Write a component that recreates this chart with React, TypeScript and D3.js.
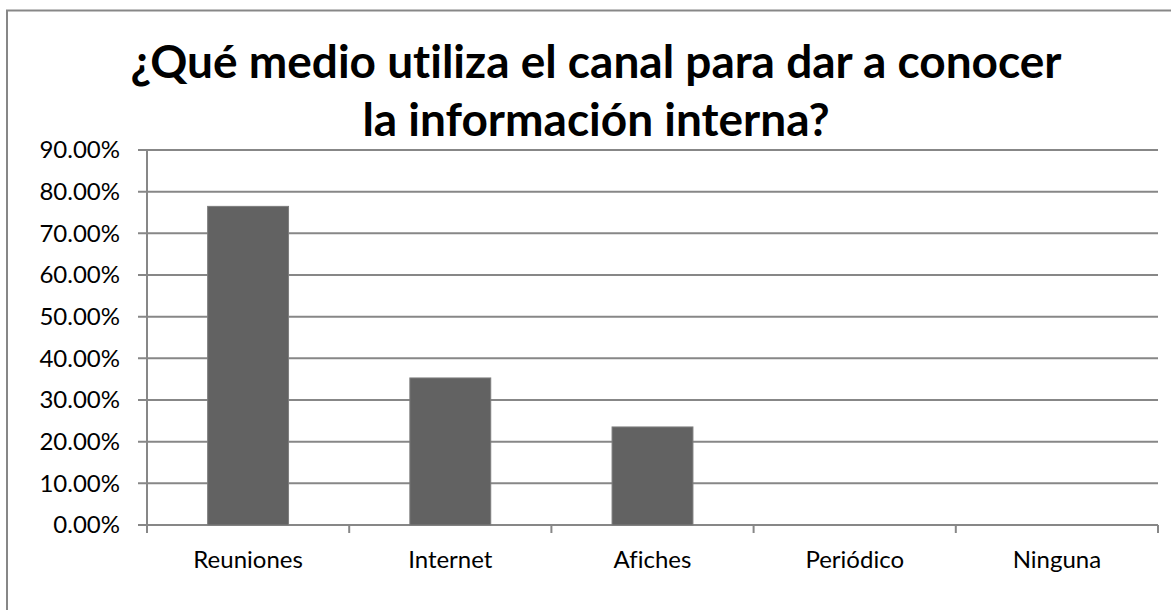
import React from "react";
import * as d3 from "d3";

const categories = ["Reuniones", "Internet", "Afiches", "Periódico", "Ninguna"];
const values = [0.7647, 0.3529, 0.2353, 0, 0];
const yTicks = [0, 0.1, 0.2, 0.3, 0.4, 0.5, 0.6, 0.7, 0.8, 0.9];
const titleLines = ["¿Qué medio utiliza el canal para dar a conocer", "la información interna?"];

const W = 1171;
const H = 610;
const FONT = "Lato, 'Open Sans', sans-serif";

const App = () => {
  const left = 147;
  const right = 1158;
  const top = 150;
  const bottom = 525;

  // category slots, bar is 1/2.5 of a slot (gap width 150%)
  const x = d3.scaleBand().domain(categories).range([left, right]).padding(0);
  const y = d3.scaleLinear().domain([0, 0.9]).range([bottom, top]);
  const fmt = d3.format(".2%");
  const barW = x.bandwidth() / 2.5;
  const grid = "#878787";

  return (
    <svg
      width={W}
      height={H}
      style={{ position: "absolute", left: 0, top: 0, fontVariantLigatures: "none" }}
    >
      <rect x={0} y={0} width={W} height={H} fill="#fff" />
      <rect x={7} y={10.5} width={W + 20} height={H + 20} fill="none" stroke={grid} strokeWidth={2} />

      {/* title */}
      <g fontFamily={FONT} fontWeight="bold" fontSize={46} textAnchor="middle" fill="#000">
        {titleLines.map((t, i) => (
          <text key={i} x={596} y={78 + i * 58}>{t}</text>
        ))}
      </g>

      {/* gridlines + y ticks */}
      {yTicks.map((t) => (
        <g key={t}>
          <line x1={left - 9} x2={right} y1={y(t)} y2={y(t)} stroke={grid} strokeWidth={2} />
          <text x={120} y={y(t)} dy="0.35em" textAnchor="end" fontFamily={FONT} fontSize={24} fill="#000">
            {fmt(t)}
          </text>
        </g>
      ))}

      {/* bars */}
      {categories.map((c, i) => (
        values[i] > 0 && (
          <rect
            key={c}
            x={x(c)! + (x.bandwidth() - barW) / 2}
            y={y(values[i])}
            width={barW}
            height={y(0) - y(values[i])}
            fill="#626262"
            stroke="#7d7d7d"
            strokeWidth={1}
          />
        )
      ))}

      {/* y axis */}
      <line x1={left} x2={left} y1={top} y2={bottom + 8} stroke={grid} strokeWidth={2} />
      {/* x axis ticks */}
      {categories.concat(["__end"]).map((c, i) => {
        const xx = i < categories.length ? x(c)! : right;
        return <line key={c} x1={xx} x2={xx} y1={bottom} y2={bottom + 8} stroke={grid} strokeWidth={2} />;
      })}
      {categories.map((c) => (
        <text key={c} x={x(c)! + x.bandwidth() / 2} y={568} textAnchor="middle" fontFamily={FONT} fontSize={24} fill="#000">
          {c}
        </text>
      ))}
    </svg>
  );
};

export default App;
